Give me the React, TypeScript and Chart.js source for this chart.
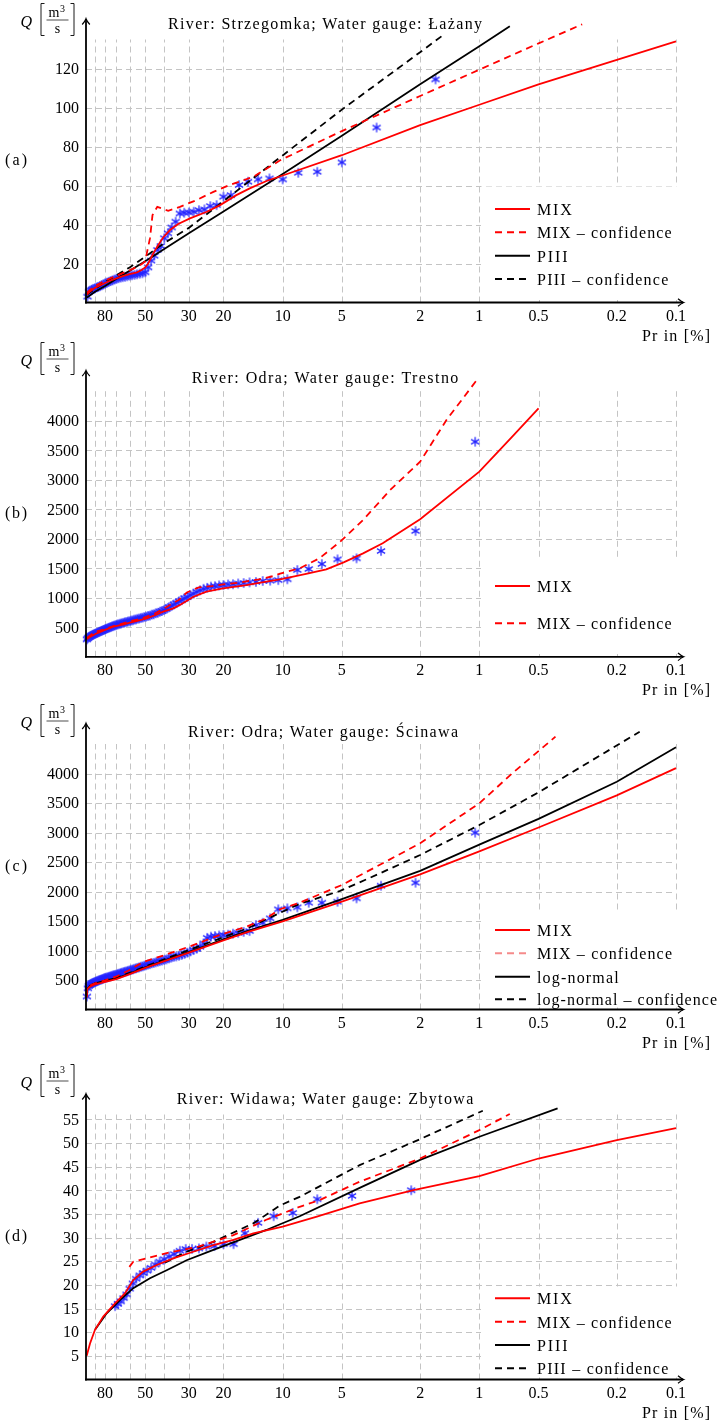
import React, { useEffect, useRef } from 'react';
import { Chart, registerables } from 'chart.js';

Chart.register(...registerables);

const FONT = "'Liberation Serif', 'Times New Roman', serif";
const RED = '#ff0000';
const BLACK = '#000000';
const STAR_BLUE = 'rgb(35,35,255)';
const GRID_COLOR = '#c4c4c4';
const DASH = [7, 5];

// ---------- axes ----------
const X_GRID = [90, 80, 70, 60, 50, 40, 30, 20, 10, 5, 2, 1, 0.5, 0.2, 0.1];
const X_LABELS = [80, 50, 30, 20, 10, 5, 2, 1, 0.5, 0.2, 0.1];
const Y_TICKS_A = [20, 40, 60, 80, 100, 120];
const Y_TICKS_B = [500, 1000, 1500, 2000, 2500, 3000, 3500, 4000];
const Y_TICKS_C = [500, 1000, 1500, 2000, 2500, 3000, 3500, 4000];
const Y_TICKS_D = [5, 10, 15, 20, 25, 30, 35, 40, 45, 50, 55];

// ---------- (a) Strzegomka / Łażany ----------
const A_STAR_PR = [1.67, 3.33, 5.0, 6.67, 8.33, 10.0, 11.67, 13.33, 15.0, 16.67, 18.33, 20.0, 21.67, 23.33, 25.0, 26.67, 28.33, 30.0, 31.67, 33.33, 35.0, 36.67, 38.33, 40.0, 41.67, 43.33, 45.0, 46.67, 48.33, 50.0, 51.67, 53.33, 55.0, 56.67, 58.33, 60.0, 61.67, 63.33, 65.0, 66.67, 68.33, 70.0, 71.67, 73.33, 75.0, 76.67, 78.33, 80.0, 81.67, 83.33, 85.0, 86.67, 88.33, 90.0, 91.67, 93.33, 95.0, 96.67, 98.33];
const A_STAR_Q = [114.5, 89.8, 71.9, 67.1, 66.6, 63.2, 63.7, 63.2, 62.0, 60.3, 55.1, 54.3, 50.0, 49.5, 47.8, 47.4, 46.6, 46.2, 46.1, 45.7, 41.5, 38.5, 35.5, 33.0, 29.0, 27.0, 24.0, 21.5, 18.0, 15.5, 15.0, 14.8, 14.5, 14.2, 14.0, 13.8, 13.5, 13.2, 13.0, 12.8, 12.5, 12.2, 11.8, 11.3, 11.0, 10.6, 10.2, 9.8, 9.3, 8.8, 8.4, 8.0, 7.7, 7.3, 7.0, 6.6, 6.2, 5.6, 3.0];
const A_MIX_PR = [99, 95, 90, 85, 80, 75, 70, 65, 60, 55, 52, 50, 48.2, 45.5, 42.9, 40.5, 37.4, 34, 29.6, 24.3, 20.8, 17.2, 14.7, 12, 10, 5, 2, 1, 0.5, 0.2, 0.1];
const A_MIX_Q = [4, 5.8, 7.5, 8.8, 10, 11.3, 12.4, 13.5, 14.6, 15.5, 16.8, 18, 20.1, 25.2, 29.5, 33.4, 37.2, 40.3, 43.2, 46.6, 50, 55.1, 58.6, 62.5, 65.2, 75.6, 91, 101.5, 112, 124.5, 134];
const A_MIXC_PR = [99, 90, 80, 70, 60, 55, 52, 50.1, 47.3, 45.9, 43.4, 41.3, 38.2, 33.3, 27.4, 22.5, 18.6, 14.1, 10.3, 5, 2, 1, 0.5, 0.3];
const A_MIXC_Q = [5, 8.5, 11.2, 13.8, 16.5, 18.3, 19.8, 21, 32.9, 44.9, 49.1, 48.3, 47.1, 49.1, 52.6, 56.8, 60.3, 64.5, 73, 88, 106, 119.5, 133, 142.8];
const A_P3_PR = [99, 90, 80, 70, 60, 50, 40, 30, 20, 10, 5, 2, 1, 0.7];
const A_P3_Q = [2.5, 5.5, 8.5, 12.2, 16.3, 21.2, 27.5, 35.5, 46.7, 66, 85.6, 112, 131.5, 141.8];
const A_P3C_PR = [99, 90, 80, 70, 60, 50, 40, 30, 20, 15.3, 10, 5, 2, 1.53];
const A_P3C_Q = [4, 7, 10.5, 14, 18, 23.5, 30.5, 38.3, 52, 61.1, 75.5, 99, 128.5, 137.2];

// ---------- (b) Odra / Trestno ----------
const ODRA_STAR_PR = [1.05, 2.11, 3.16, 4.21, 5.26, 6.32, 7.37, 8.42, 9.47, 10.53, 11.58, 12.63, 13.68, 14.74, 15.79, 16.84, 17.89, 18.95, 20.0, 21.05, 22.11, 23.16, 24.21, 25.26, 26.32, 27.37, 28.42, 29.47, 30.53, 31.58, 32.63, 33.68, 34.74, 35.79, 36.84, 37.89, 38.95, 40.0, 41.05, 42.11, 43.16, 44.21, 45.26, 46.32, 47.37, 48.42, 49.47, 50.53, 51.58, 52.63, 53.68, 54.74, 55.79, 56.84, 57.89, 58.95, 60.0, 61.05, 62.11, 63.16, 64.21, 65.26, 66.32, 67.37, 68.42, 69.47, 70.53, 71.58, 72.63, 73.68, 74.74, 75.79, 76.84, 77.89, 78.95, 80.0, 81.05, 82.11, 83.16, 84.21, 85.26, 86.32, 87.37, 88.42, 89.47, 90.53, 91.58, 92.63, 93.68, 94.74, 95.79, 96.84, 97.89, 98.95];
const B_STAR_Q = [3644, 2131, 1792, 1668, 1651, 1572, 1487, 1470, 1313, 1300,
  1290, 1285, 1268, 1262, 1250, 1242, 1230, 1226, 1216, 1210,
  1197, 1190, 1168, 1152, 1126, 1102, 1070, 1047, 1013, 992,
  960, 940, 910, 887, 860, 840, 812, 797, 776, 764,
  746, 737, 720, 714, 698, 692, 680, 674, 663, 659,
  648, 644, 633, 630, 618, 614, 603, 600, 590, 587,
  576, 574, 563, 560, 550, 547, 536, 532, 520, 516,
  504, 500, 488, 484, 472, 468, 456, 452, 440, 436,
  424, 420, 408, 404, 392, 388, 376, 372, 360, 354,
  340, 332, 315, 296];
const B_MIX_PR = [99, 95, 88.2, 80, 72.6, 65, 59.8, 55, 49.2, 45, 40.5, 36, 33.3, 28.4, 24.4, 20.1, 15.3, 12.1, 10, 7.6, 6, 4.9, 3.9, 3.1, 2, 1, 0.68, 0.5];
const B_MIX_Q = [300, 340, 398, 455, 510, 545, 578, 610, 652, 700, 764, 820, 877, 1018, 1103, 1160, 1216, 1272, 1320, 1403, 1482, 1600, 1753, 1923, 2330, 3136, 3729, 4210];
const B_MIXC_PR = [99, 90, 80, 70, 60, 55, 51.9, 44.4, 38.7, 33.8, 30.7, 26.7, 22.9, 19.6, 16.7, 13.2, 11.1, 10.3, 8.2, 6.5, 5.1, 3.9, 2.84, 2.0, 1.47, 1.03];
const B_MIXC_Q = [320, 420, 470, 535, 600, 630, 652, 737, 849, 962, 1090, 1177, 1199, 1233, 1255, 1313, 1369, 1410, 1499, 1669, 1950, 2318, 2826, 3305, 4011, 4689];

// ---------- (c) Odra / Ścinawa ----------
const C_STAR_Q = [2997, 2149, 2098, 1884, 1827, 1810, 1810, 1732, 1715, 1698,
  1545, 1470, 1432, 1330, 1315, 1300, 1285, 1268, 1263, 1255,
  1245, 1235, 1215, 1120, 1064, 1030, 1008, 985, 962, 940,
  924, 912, 900, 893, 880, 866, 850, 839, 830, 820,
  810, 800, 790, 783, 770, 762, 750, 741, 731, 725,
  715, 706, 698, 690, 680, 673, 665, 656, 648, 641,
  635, 628, 620, 612, 605, 598, 590, 585, 580, 572,
  565, 558, 552, 545, 540, 535, 528, 520, 512, 505,
  500, 492, 485, 478, 470, 462, 455, 448, 440, 430,
  420, 400, 360, 220];
const C_MIX_PR = [99.8, 99, 97, 95, 90, 85, 80, 70, 60, 50, 40, 30, 20, 15, 10, 5, 2, 1, 0.5, 0.2, 0.1];
const C_MIX_Q = [220, 330, 370, 392, 425, 445, 470, 515, 600, 705, 820, 963, 1172, 1316, 1495, 1830, 2290, 2680, 3085, 3630, 4090];
const C_MIXC_PR = [99.8, 99, 95, 90, 80, 70, 60, 54, 50, 40, 30, 20.9, 15.3, 12.2, 10.3, 8.2, 5, 2, 1, 0.68, 0.41];
const C_MIXC_Q = [230, 345, 410, 445, 495, 560, 670, 760, 817, 920, 1064, 1263, 1403, 1540, 1700, 1810, 2110, 2817, 3495, 4003, 4624];
const C_LN_PR = [99.8, 99, 95, 90, 80, 70, 60, 50, 40, 30, 20, 15, 10, 5, 2, 1, 0.5, 0.2, 0.1];
const C_LN_Q = [250, 340, 405, 440, 488, 530, 610, 715, 830, 975, 1190, 1335, 1520, 1870, 2350, 2795, 3230, 3860, 4444];
const C_LNC_PR = [99.8, 99, 95, 90, 80, 70, 60, 50, 40, 30, 20, 15, 10.3, 8.2, 5.1, 3.2, 2.0, 1.0, 0.5, 0.153];
const C_LNC_Q = [240, 340, 408, 442, 490, 540, 620, 730, 850, 1010, 1225, 1380, 1640, 1790, 2010, 2308, 2619, 3127, 3680, 4708];

// ---------- (d) Widawa / Zbytowa ----------
const D_STAR_PR = [2.22, 4.44, 6.67, 8.89, 11.11, 13.33, 15.56, 17.78, 20.0, 22.22, 24.44, 26.67, 28.89, 31.11, 33.33, 35.56, 37.78, 40.0, 42.22, 44.44, 46.67, 48.89, 51.11, 53.33, 55.56, 57.78, 60.0, 62.22, 64.44, 66.67, 68.89, 71.11];
const D_STAR_Q = [40.0, 38.8, 38.1, 35.2, 34.5, 33.1, 30.9, 28.6, 28.6, 28.2, 28.1, 27.7, 27.6, 27.6, 27.2, 26.5, 26.0, 25.4, 24.9, 24.3, 23.6, 23.0, 22.5, 22.0, 21.3, 20.3, 19.2, 18.0, 17.2, 16.5, 16.0, 15.5];
const D_MIX_PR = [99.2, 95.4, 90, 81.7, 71.2, 63.4, 57.5, 51.2, 43.7, 36, 28.5, 22.5, 17.8, 14.1, 10, 6.7, 4.06, 2.16, 1.0, 0.5, 0.2, 0.1];
const D_MIX_Q = [5.0, 7.6, 10.5, 13.3, 16.1, 18.2, 21, 22.8, 24.2, 25.6, 27, 28.4, 29.5, 30.9, 32.3, 34.4, 37.2, 40.0, 43.0, 46.7, 50.6, 53.1];
const D_MIXC_PR = [60.2, 57.5, 38.9, 26.8, 17.8, 12.2, 8.2, 6.5, 4.06, 2.0, 1.0, 0.70];
const D_MIXC_Q = [23.8, 24.9, 26.7, 28.1, 30.5, 33.7, 36.5, 37.9, 41.8, 46.7, 52.7, 56.1];
const D_P3_PR = [90, 78.5, 67.2, 57.5, 47.3, 38.9, 30.8, 22.5, 16.5, 12.1, 10.3, 8.2, 4.06, 2.0, 1.0, 0.4];
const D_P3_Q = [10.5, 14, 16.8, 19.3, 21.4, 23.1, 25.2, 27.4, 29.5, 31.6, 32.8, 34.5, 40.5, 46.4, 51.3, 57.3];
const D_P3C_PR = [39.7, 30.8, 22.5, 14.1, 10.3, 8.2, 4.06, 2.0, 0.96];
const D_P3C_Q = [24.7, 27, 29.1, 33, 36.8, 38.6, 45.3, 50.8, 56.8];

// ---------- panel configuration (page coordinates) ----------
type Series = { pr: number[]; q: number[]; color: string; dash?: number[] };
type LegendItem = { label: string; color: string; dash?: number[]; width: number; y: number };
type PanelCfg = {
  tag: string; offset: number; height: number; plotTop: number; axisY: number;
  yMax: number; yTicks: number[]; title: string; titleX: number; titleW: number; titleY: number;
  qBarY: number; box: number[]; legend: LegendItem[]; lines: Series[]; starPr: number[]; starQ: number[];
};

const PANELS: PanelCfg[] = [
  {
    tag: '(a)', offset: 0, height: 350, plotTop: 39.5, axisY: 302.5, yMax: 135, yTicks: Y_TICKS_A,
    title: 'River: Strzegomka; Water gauge: Łażany', titleX: 325, titleW: 314, titleY: 28.5, qBarY: 20,
    box: [481, 186.5, 219, 113.5],
    legend: [
      { label: 'MIX', color: RED, width: 34.7, y: 209 },
      { label: 'MIX – confidence', color: RED, dash: DASH, width: 134.7, y: 232.3 },
      { label: 'PIII', color: BLACK, width: 30.7, y: 255.7 },
      { label: 'PIII – confidence', color: BLACK, dash: DASH, width: 131.3, y: 279 },
    ],
    lines: [
      { pr: A_MIX_PR, q: A_MIX_Q, color: RED },
      { pr: A_MIXC_PR, q: A_MIXC_Q, color: RED, dash: DASH },
      { pr: A_P3_PR, q: A_P3_Q, color: BLACK },
      { pr: A_P3C_PR, q: A_P3C_Q, color: BLACK, dash: DASH },
    ],
    starPr: A_STAR_PR, starQ: A_STAR_Q,
  },
  {
    tag: '(b)', offset: 334, height: 372, plotTop: 391.2, axisY: 656.8, yMax: 4500, yTicks: Y_TICKS_B,
    title: 'River: Odra; Water gauge: Trestno', titleX: 325, titleW: 266.6, titleY: 383.3, qBarY: 359,
    box: [481, 558.5, 219, 95.5],
    legend: [
      { label: 'MIX', color: RED, width: 34.7, y: 586 },
      { label: 'MIX – confidence', color: RED, dash: DASH, width: 134.7, y: 623.3 },
    ],
    lines: [
      { pr: B_MIX_PR, q: B_MIX_Q, color: RED },
      { pr: B_MIXC_PR, q: B_MIXC_Q, color: RED, dash: DASH },
    ],
    starPr: ODRA_STAR_PR, starQ: B_STAR_Q,
  },
  {
    tag: '(c)', offset: 698, height: 364, plotTop: 744, axisY: 1009.5, yMax: 4500, yTicks: Y_TICKS_C,
    title: 'River: Odra; Water gauge: Ścinawa', titleX: 323, titleW: 270, titleY: 737.3, qBarY: 721,
    box: [481, 912, 236, 95.5],
    legend: [
      { label: 'MIX', color: RED, width: 34.7, y: 930 },
      { label: 'MIX – confidence', color: '#f58a8a', dash: DASH, width: 135, y: 953.3 },
      { label: 'log-normal', color: BLACK, width: 81.7, y: 976.7 },
      { label: 'log-normal – confidence', color: BLACK, dash: DASH, width: 180, y: 999.3 },
    ],
    lines: [
      { pr: C_MIX_PR, q: C_MIX_Q, color: RED },
      { pr: C_MIXC_PR, q: C_MIXC_Q, color: RED, dash: DASH },
      { pr: C_LN_PR, q: C_LN_Q, color: BLACK },
      { pr: C_LNC_PR, q: C_LNC_Q, color: BLACK, dash: DASH },
    ],
    starPr: ODRA_STAR_PR, starQ: C_STAR_Q,
  },
  {
    tag: '(d)', offset: 1056, height: 364, plotTop: 1114.5, axisY: 1379.5, yMax: 56, yTicks: Y_TICKS_D,
    title: 'River: Widawa; Water gauge: Zbytowa', titleX: 325, titleW: 296.6, titleY: 1104, qBarY: 1081,
    box: [481, 1286.5, 219, 91],
    legend: [
      { label: 'MIX', color: RED, width: 34.7, y: 1298.3 },
      { label: 'MIX – confidence', color: RED, dash: DASH, width: 134.7, y: 1321.7 },
      { label: 'PIII', color: BLACK, width: 30.7, y: 1345 },
      { label: 'PIII – confidence', color: BLACK, dash: DASH, width: 131.3, y: 1368.3 },
    ],
    lines: [
      { pr: D_MIX_PR, q: D_MIX_Q, color: RED },
      { pr: D_MIXC_PR, q: D_MIXC_Q, color: RED, dash: DASH },
      { pr: D_P3_PR, q: D_P3_Q, color: BLACK },
      { pr: D_P3C_PR, q: D_P3C_Q, color: BLACK, dash: DASH },
    ],
    starPr: D_STAR_PR, starQ: D_STAR_Q,
  },
];

// ---------- helpers ----------
function drawText(
  ctx: CanvasRenderingContext2D, text: string, x: number, y: number,
  align: 'left' | 'center' | 'right' = 'left', size = 16, width?: number, italic = false,
) {
  ctx.font = `${italic ? 'italic ' : ''}${size}px ${FONT}`;
  ctx.textAlign = 'left';
  ctx.textBaseline = 'alphabetic';
  const c: any = ctx;
  const hasLS = 'letterSpacing' in c;
  if (hasLS) c.letterSpacing = '0px';
  const natural = ctx.measureText(text).width;
  const target = width ?? natural;
  const x0 = align === 'center' ? x - target / 2 : align === 'right' ? x - target : x;
  if (Math.abs(target - natural) > 0.5 && text.length > 1) {
    if (hasLS) {
      c.letterSpacing = `${(target - natural) / (text.length - 1)}px`;
      ctx.fillText(text, x0, y);
      c.letterSpacing = '0px';
    } else {
      ctx.save();
      ctx.translate(x0, y);
      ctx.scale(target / natural, 1);
      ctx.fillText(text, 0, 0);
      ctx.restore();
    }
  } else {
    ctx.fillText(text, x0, y);
  }
}

function makeStar(): HTMLCanvasElement {
  const c = document.createElement('canvas');
  c.width = 12;
  c.height = 12;
  const g = c.getContext('2d')!;
  g.strokeStyle = STAR_BLUE;
  g.lineWidth = 1.25;
  const r = 4.7;
  const cx = 6;
  const cy = 6;
  g.beginPath();
  for (const a of [90, 30, 150]) {
    const rad = (a * Math.PI) / 180;
    g.moveTo(cx - r * Math.cos(rad), cy - r * Math.sin(rad));
    g.lineTo(cx + r * Math.cos(rad), cy + r * Math.sin(rad));
  }
  g.stroke();
  return c;
}

function makePlugin(cfg: PanelCfg) {
  const o = cfg.offset;
  return {
    id: 'probPaper',
    beforeDatasetsDraw(chart: any) {
      const ctx: CanvasRenderingContext2D = chart.ctx;
      const { left, right, top, bottom } = chart.chartArea;
      const xs = chart.scales.x;
      const ys = chart.scales.y;
      ctx.save();
      ctx.strokeStyle = GRID_COLOR;
      ctx.lineWidth = 1;
      ctx.setLineDash([6, 4]);
      for (const v of X_GRID) {
        const px = Math.round(xs.getPixelForValue(v)) + 0.5;
        ctx.beginPath();
        ctx.moveTo(px, bottom);
        ctx.lineTo(px, top);
        ctx.stroke();
      }
      for (const v of cfg.yTicks) {
        const py = Math.round(ys.getPixelForValue(v)) + 0.5;
        ctx.beginPath();
        ctx.moveTo(left, py);
        ctx.lineTo(right, py);
        ctx.stroke();
      }
      ctx.setLineDash([]);
      const [bx, by, bw, bh] = cfg.box;
      ctx.fillStyle = '#ffffff';
      ctx.fillRect(bx, by - o, bw, bh);
      ctx.restore();
    },
    afterDraw(chart: any) {
      const ctx: CanvasRenderingContext2D = chart.ctx;
      const { left, right, top, bottom } = chart.chartArea;
      const xs = chart.scales.x;
      const ys = chart.scales.y;
      ctx.save();
      ctx.fillStyle = '#000';
      ctx.strokeStyle = '#000';
      ctx.setLineDash([]);

      // axes
      ctx.lineWidth = 1.8;
      const xTip = right + 7;
      const yTip = top - 20;
      ctx.beginPath();
      ctx.moveTo(left - 0.9, bottom);
      ctx.lineTo(xTip, bottom);
      ctx.stroke();
      ctx.beginPath();
      ctx.moveTo(left, bottom + 0.9);
      ctx.lineTo(left, yTip);
      ctx.stroke();
      ctx.lineWidth = 1.2;
      ctx.beginPath();
      ctx.moveTo(xTip - 5, bottom - 3.8);
      ctx.quadraticCurveTo(xTip - 1.5, bottom - 0.8, xTip + 0.8, bottom);
      ctx.quadraticCurveTo(xTip - 1.5, bottom + 0.8, xTip - 5, bottom + 3.8);
      ctx.stroke();
      ctx.beginPath();
      ctx.moveTo(left - 3.8, yTip + 5);
      ctx.quadraticCurveTo(left - 0.8, yTip + 1.5, left, yTip - 0.8);
      ctx.quadraticCurveTo(left + 0.8, yTip + 1.5, left + 3.8, yTip + 5);
      ctx.stroke();

      // tick labels
      for (const v of cfg.yTicks) {
        drawText(ctx, String(v), 79, ys.getPixelForValue(v) + 5.3, 'right');
      }
      for (const v of X_LABELS) {
        drawText(ctx, String(v), xs.getPixelForValue(v), bottom + 18, 'center');
      }
      drawText(ctx, 'Pr in [%]', 710, bottom + 38.5, 'right', 16, 68);

      // title and panel tag
      drawText(ctx, cfg.title, cfg.titleX, cfg.titleY - o, 'center', 16, cfg.titleW);
      drawText(ctx, cfg.tag, 5, (top + bottom) / 2 - 6, 'left', 16, 22);

      // Q [m^3/s]
      const c = cfg.qBarY - o;
      drawText(ctx, 'Q', 20.5, c + 6.5, 'left', 16, undefined, true);
      ctx.lineWidth = 0.9;
      ctx.beginPath();
      ctx.moveTo(44.5, c - 16.5);
      ctx.lineTo(41, c - 16.5);
      ctx.lineTo(41, c + 15.5);
      ctx.lineTo(44.5, c + 15.5);
      ctx.stroke();
      ctx.beginPath();
      ctx.moveTo(70.5, c - 16.5);
      ctx.lineTo(74, c - 16.5);
      ctx.lineTo(74, c + 15.5);
      ctx.lineTo(70.5, c + 15.5);
      ctx.stroke();
      ctx.lineWidth = 0.7;
      ctx.beginPath();
      ctx.moveTo(46.5, c);
      ctx.lineTo(68.5, c);
      ctx.stroke();
      ctx.font = `14px ${FONT}`;
      const mw = ctx.measureText('m').width;
      drawText(ctx, 'm', 48.5, c - 3, 'left', 14);
      drawText(ctx, '3', 48.5 + mw + 0.5, c - 8.5, 'left', 10);
      drawText(ctx, 's', 57.5, c + 13, 'center', 14);

      // legend
      for (const it of cfg.legend) {
        const y = it.y - o;
        ctx.strokeStyle = it.color;
        ctx.lineWidth = 2;
        ctx.setLineDash(it.dash || []);
        ctx.beginPath();
        ctx.moveTo(495, y);
        ctx.lineTo(530, y);
        ctx.stroke();
        ctx.setLineDash([]);
        drawText(ctx, it.label, 537, y + 6, 'left', 16, it.width);
      }
      ctx.restore();
    },
  };
}

function Panel({ cfg }: { cfg: PanelCfg }) {
  const ref = useRef<HTMLCanvasElement>(null);
  useEffect(() => {
    const canvas = ref.current;
    if (!canvas) return;
    const star = makeStar();
    const lineSets = cfg.lines.map((s) => ({
      data: s.pr.map((p, i) => ({ x: p, y: s.q[i] })),
      showLine: true,
      borderColor: s.color,
      backgroundColor: s.color,
      borderWidth: 1.8,
      borderDash: s.dash || [],
      pointRadius: 0,
      pointHoverRadius: 0,
      tension: 0,
      fill: false,
      clip: false,
    }));
    const starSet = {
      data: cfg.starPr.map((p, i) => ({ x: p, y: cfg.starQ[i] })),
      showLine: false,
      pointStyle: star,
      pointRadius: 5,
      pointHoverRadius: 5,
      borderColor: STAR_BLUE,
      backgroundColor: STAR_BLUE,
      clip: false,
    };
    const chart = new Chart(canvas, {
      type: 'scatter',
      data: { datasets: [...lineSets, starSet] as any },
      options: {
        animation: false,
        responsive: false,
        maintainAspectRatio: false,
        events: [],
        layout: {
          padding: {
            left: 86,
            right: 717 - 676,
            top: cfg.plotTop - cfg.offset,
            bottom: cfg.offset + cfg.height - cfg.axisY,
          },
        },
        plugins: { legend: { display: false }, tooltip: { enabled: false }, title: { display: false } },
        scales: {
          x: { type: 'logarithmic', reverse: true, min: 0.1, max: 100, display: false },
          y: { type: 'linear', min: 0, max: cfg.yMax, display: false },
        },
      } as any,
      plugins: [makePlugin(cfg)],
    });
    return () => chart.destroy();
  }, [cfg]);
  return (
    <canvas
      ref={ref}
      width={717}
      height={cfg.height}
      style={{ position: 'absolute', left: 0, top: cfg.offset, width: 717, height: cfg.height, display: 'block' }}
    />
  );
}

export default function App() {
  return (
    <div style={{ position: 'absolute', left: 0, top: 0, width: 717, height: 1420, background: '#fff' }}>
      {PANELS.map((p) => (
        <Panel key={p.tag} cfg={p} />
      ))}
    </div>
  );
}
